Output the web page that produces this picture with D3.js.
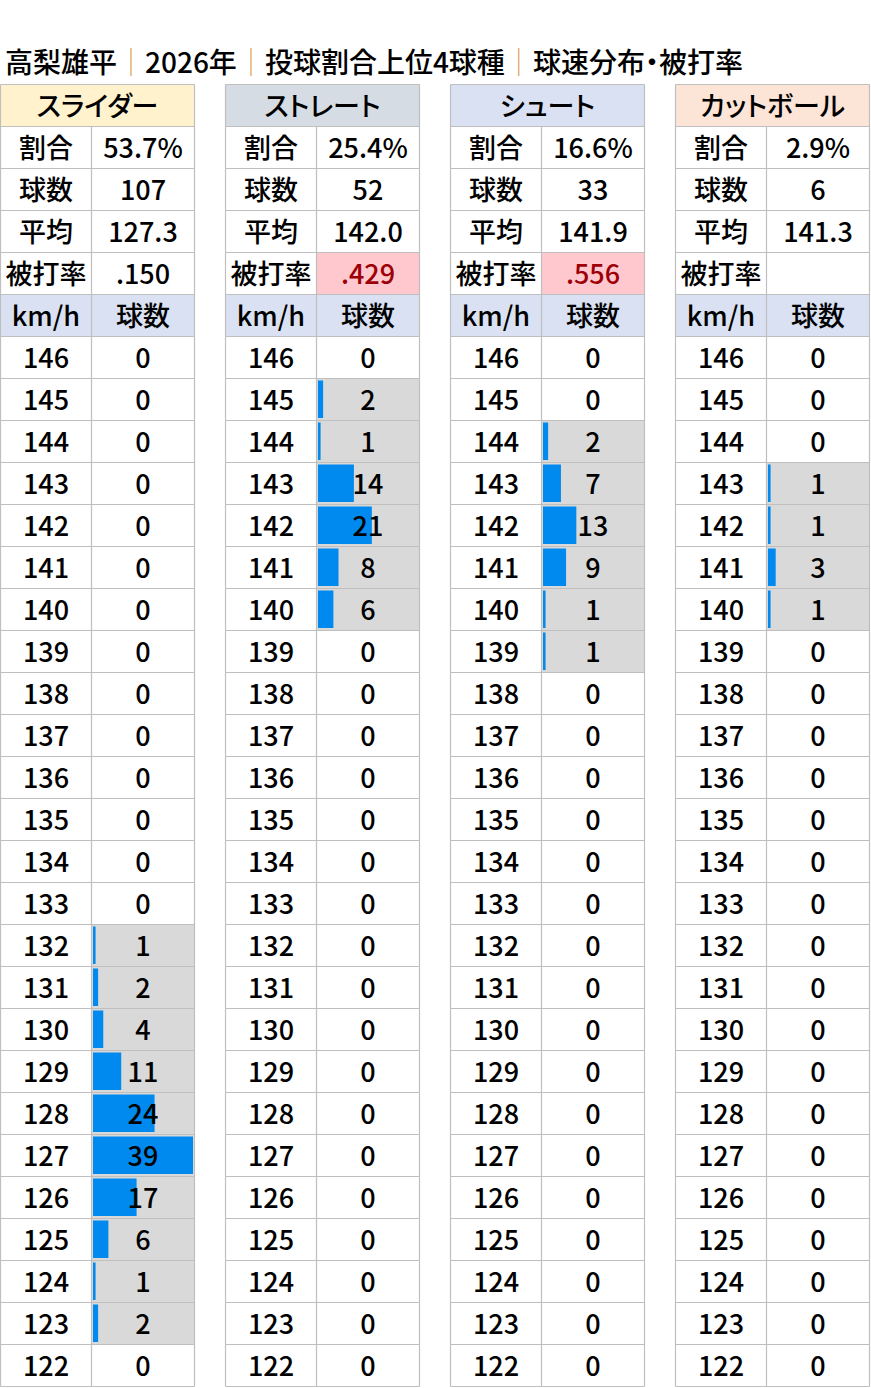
<!DOCTYPE html>
<html lang="ja">
<head>
<meta charset="utf-8">
<script src="https://cdn.jsdelivr.net/npm/d3@7"></script>
<style>
  html, body { margin: 0; padding: 0; background: #fff; }
  svg text { font-family: "Noto Sans CJK JP", "Noto Sans", sans-serif; fill: #000; font-weight: 500; }
  .palt { font-feature-settings: "palt" 1; }
</style>
</head>
<body>
<div id="chart"></div>
<script>
// ---- data ----
const titleParts = ["高梨雄平", "2026年", "投球割合上位4球種", "球速分布", "被打率"];
const pitchNames = ["スライダー", "ストレート", "シュート", "カットボール"];
const pitchShares = ["53.7%", "25.4%", "16.6%", "2.9%"];
const pitchCounts = [107, 52, 33, 6];
const pitchAverages = ["127.3", "142.0", "141.9", "141.3"];
const battingAverages = [".150", ".429", ".556", ""];
const statLabels = ["割合", "球数", "平均", "被打率"];
const speedLabels = [146, 145, 144, 143, 142, 141, 140, 139, 138, 137, 136, 135, 134,
                     133, 132, 131, 130, 129, 128, 127, 126, 125, 124, 123, 122];
const sliderCounts =   [0, 0, 0, 0, 0, 0, 0, 0, 0, 0, 0, 0, 0, 0, 1, 2, 4, 11, 24, 39, 17, 6, 1, 2, 0];
const straightCounts = [0, 2, 1, 14, 21, 8, 6, 0, 0, 0, 0, 0, 0, 0, 0, 0, 0, 0, 0, 0, 0, 0, 0, 0, 0];
const shootCounts =    [0, 0, 2, 7, 13, 9, 1, 1, 0, 0, 0, 0, 0, 0, 0, 0, 0, 0, 0, 0, 0, 0, 0, 0, 0];
const cutterCounts =   [0, 0, 0, 1, 1, 3, 1, 0, 0, 0, 0, 0, 0, 0, 0, 0, 0, 0, 0, 0, 0, 0, 0, 0, 0];
const speedCounts = [sliderCounts, straightCounts, shootCounts, cutterCounts];

// ---- styles ----
const headerColors = ["#fff2cc", "#d6dce4", "#d9e1f2", "#fce4d6"];
const subHeaderColor = "#d9e1f2";
const gridColor = "#bfbfbf";
const barColor = "#0089ee";
const filledCellColor = "#d9d9d9";
const alertFill = "#ffc7ce";
const alertText = "#9c0006";
const fontSize = 27;

const W = 871, H = 1388;
const svg = d3.select("#chart").append("svg")
    .attr("width", W)
    .attr("height", H);

svg.append("rect").attr("width", W).attr("height", H).attr("fill", "#fff");

// title: "｜" separators in orange, "・" before the last part
const title = svg.append("text")
    .attr("x", 5)
    .attr("y", 73)
    .style("font-size", "28px");
titleParts.forEach((part, i) => {
    if (i === titleParts.length - 1) {
        title.append("tspan").attr("class", "palt").text("・");
    } else if (i > 0) {
        title.append("tspan").style("fill", "#e09a4a").style("font-weight", 300).text("｜");
    }
    title.append("tspan").text(part);
});

// table layout scales
const tableX = d3.scaleBand()
    .domain(pitchNames)
    .range([0.5, 869.5])
    .paddingInner(31 / 225);

const rowKeys = ["name", ...statLabels, "km/h", ...speedLabels.map(String)];
const rowY = d3.scaleBand()
    .domain(rowKeys)
    .range([84.5, 1386.5]);

const tw = tableX.bandwidth();
const labelW = 91;
const valueW = tw - labelW;
const rh = rowY.bandwidth();

// data bar scale shared across all four tables
const barX = d3.scaleLinear()
    .domain([0, d3.max(speedCounts.flat())])
    .range([0, valueW - 3]);

const textY = key => rowY(key) + rh / 2 + 10;

pitchNames.forEach((name, p) => {
    const g = svg.append("g").attr("transform", `translate(${tableX(name)},0)`);

    // pitch name header spanning both columns
    g.append("rect")
        .attr("x", 0).attr("y", rowY("name"))
        .attr("width", tw).attr("height", rh)
        .attr("fill", headerColors[p]);
    g.append("text")
        .attr("class", "palt")
        .attr("x", tw / 2).attr("y", textY("name"))
        .attr("text-anchor", "middle")
        .style("font-size", fontSize + "px")
        .text(name);

    // summary rows
    const values = [pitchShares[p], String(pitchCounts[p]), pitchAverages[p], battingAverages[p]];
    statLabels.forEach((lab, i) => {
        const isAlert = i === 3 && values[i] !== "" && +values[i] >= 0.4;
        if (isAlert) {
            g.append("rect")
                .attr("x", labelW).attr("y", rowY(lab))
                .attr("width", valueW).attr("height", rh)
                .attr("fill", alertFill);
        }
        g.append("text")
            .attr("x", labelW / 2).attr("y", textY(lab))
            .attr("text-anchor", "middle")
            .style("font-size", fontSize + "px")
            .text(lab);
        g.append("text")
            .attr("x", labelW + valueW / 2).attr("y", textY(lab))
            .attr("text-anchor", "middle")
            .style("font-size", fontSize + "px")
            .style("fill", isAlert ? alertText : "#000")
            .text(values[i]);
    });

    // sub header
    g.append("rect")
        .attr("x", 0).attr("y", rowY("km/h"))
        .attr("width", tw).attr("height", rh)
        .attr("fill", subHeaderColor);
    g.append("text")
        .attr("x", labelW / 2).attr("y", textY("km/h"))
        .attr("text-anchor", "middle")
        .style("font-size", fontSize + "px")
        .text("km/h");
    g.append("text")
        .attr("x", labelW + valueW / 2).attr("y", textY("km/h"))
        .attr("text-anchor", "middle")
        .style("font-size", fontSize + "px")
        .text("球数");

    // speed rows
    const rows = speedLabels.map((s, i) => ({ key: String(s), speed: s, count: speedCounts[p][i] }));

    g.selectAll(".fill")
        .data(rows.filter(d => d.count > 0))
        .join("rect")
        .attr("class", "fill")
        .attr("x", labelW).attr("y", d => rowY(d.key))
        .attr("width", valueW).attr("height", rh)
        .attr("fill", filledCellColor);

    g.selectAll(".bar")
        .data(rows.filter(d => d.count > 0))
        .join("rect")
        .attr("class", "bar")
        .attr("x", labelW + 1.5)
        .attr("y", d => rowY(d.key) + 2)
        .attr("width", d => barX(d.count))
        .attr("height", rh - 4.5)
        .attr("fill", barColor);

    g.selectAll(".speed")
        .data(rows)
        .join("text")
        .attr("class", "speed")
        .attr("x", labelW / 2).attr("y", d => textY(d.key))
        .attr("text-anchor", "middle")
        .style("font-size", fontSize + "px")
        .text(d => d.speed);

    g.selectAll(".count")
        .data(rows)
        .join("text")
        .attr("class", "count")
        .attr("x", labelW + valueW / 2).attr("y", d => textY(d.key))
        .attr("text-anchor", "middle")
        .style("font-size", fontSize + "px")
        .text(d => d.count);

    // grid lines
    const grid = g.append("g")
        .attr("fill", "none")
        .attr("stroke", gridColor)
        .attr("stroke-width", 1.2);
    grid.selectAll("line.h")
        .data([...rowKeys.map(k => rowY(k)), rowY.range()[1]])
        .join("line")
        .attr("class", "h")
        .attr("x1", 0).attr("x2", tw)
        .attr("y1", d => d).attr("y2", d => d);
    grid.append("line")
        .attr("x1", 0).attr("x2", 0)
        .attr("y1", rowY.range()[0]).attr("y2", rowY.range()[1]);
    grid.append("line")
        .attr("x1", tw).attr("x2", tw)
        .attr("y1", rowY.range()[0]).attr("y2", rowY.range()[1]);
    grid.append("line")
        .attr("x1", labelW).attr("x2", labelW)
        .attr("y1", rowY(statLabels[0])).attr("y2", rowY.range()[1]);
});
</script>
</body>
</html>
